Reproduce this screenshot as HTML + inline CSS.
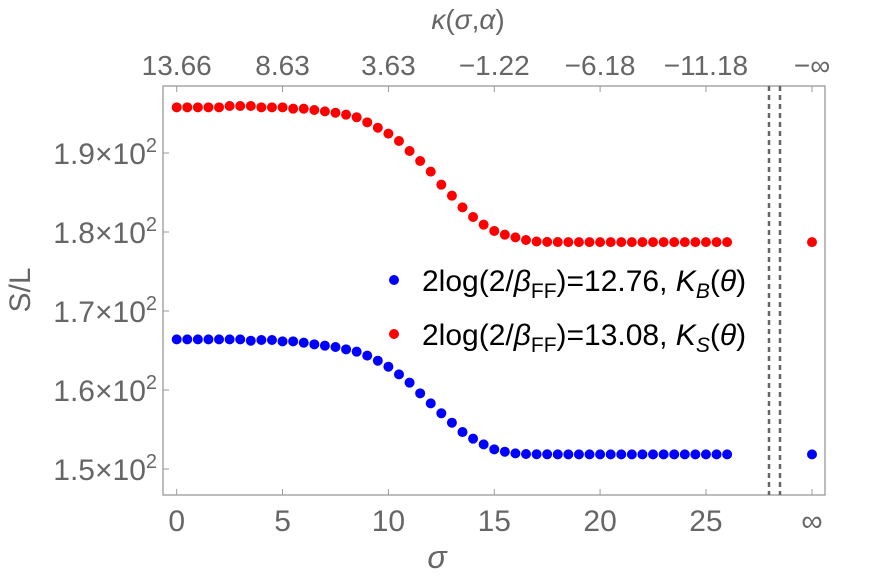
<!DOCTYPE html>
<html><head><meta charset="utf-8"><style>
body{margin:0;background:#fff}
svg{display:block;font-family:"Liberation Sans",sans-serif}
.t{fill:#666}
</style></head><body>
<svg width="872" height="583" viewBox="0 0 872 583">
<g id="frame"></g>
<g id="marks"></g>
<g id="legend">
<circle cx="394" cy="280" r="5" fill="#0000ff"/>
<text x="422" y="291" font-size="30" fill="#000">2log(2/<tspan font-style="italic">β</tspan><tspan font-size="21" dy="7">FF</tspan><tspan dy="-7">)=12.76, </tspan><tspan font-style="italic">K</tspan><tspan font-style="italic" font-size="21" dy="7">B</tspan><tspan dy="-7">(</tspan><tspan font-style="italic">θ</tspan>)</text>
<circle cx="394" cy="334" r="5" fill="#ff0000"/>
<text x="422" y="345" font-size="30" fill="#000">2log(2/<tspan font-style="italic">β</tspan><tspan font-size="21" dy="7">FF</tspan><tspan dy="-7">)=13.08, </tspan><tspan font-style="italic">K</tspan><tspan font-style="italic" font-size="21" dy="7">S</tspan><tspan dy="-7">(</tspan><tspan font-style="italic">θ</tspan>)</text>
</g>
<text class="t" x="437" y="568" text-anchor="middle" font-style="italic" font-size="32">σ</text>
<text class="t" x="468" y="29" text-anchor="middle" font-size="28"><tspan font-style="italic">κ</tspan>(<tspan font-style="italic">σ</tspan>,<tspan font-style="italic">α</tspan>)</text>
<text class="t" transform="translate(30,290) rotate(-90)" text-anchor="middle" font-size="30">S/L</text>
</svg>
<script>
const xTicks=[0,5,10,15,20,25];
const xTickLabels=["0","5","10","15","20","25"];
const topTickLabels=["13.66","8.63","3.63","−1.22","−6.18","−11.18"];
const yTicks=[150,160,170,180,190];
const yTickLabels=["1.5","1.6","1.7","1.8","1.9"];
const sigma=[0,0.5,1,1.5,2,2.5,3,3.5,4,4.5,5,5.5,6,6.5,7,7.5,8,8.5,9,9.5,10,10.5,11,11.5,12,12.5,13,13.5,14,14.5,15,15.5,16,16.5,17,17.5,18,18.5,19,19.5,20,20.5,21,21.5,22,22.5,23,23.5,24,24.5,25,25.5,26];
const redValues=[195.78,195.78,195.78,195.78,195.78,195.95,195.95,195.95,195.78,195.78,195.78,195.61,195.61,195.44,195.27,195.1,194.85,194.52,193.88,193.2,192.45,191.52,190.25,188.99,187.64,185.99,184.6,183.12,181.9,180.93,180.13,179.66,179.32,178.99,178.8,178.75,178.73,178.72,178.72,178.72,178.72,178.72,178.72,178.72,178.72,178.72,178.72,178.72,178.72,178.72,178.72,178.72,178.72];
const blueValues=[166.41,166.41,166.41,166.41,166.41,166.41,166.41,166.24,166.33,166.33,166.16,166.16,165.99,165.78,165.61,165.44,165.15,164.85,164.35,163.71,162.95,161.98,160.93,159.58,158.31,157.05,155.86,154.68,153.84,153.12,152.49,152.19,151.98,151.9,151.87,151.86,151.85,151.85,151.85,151.85,151.85,151.85,151.85,151.85,151.85,151.85,151.85,151.85,151.85,151.85,151.85,151.85,151.85];
const redInf=178.72, blueInf=151.85;
const NS="http://www.w3.org/2000/svg";
const X=s=>176.7+s*21.17;
const XINF=812;
const Y=v=>469-(v-150)*7.9;
const R=825,T=86,B=495;
function mk(tag,attrs,parent,txt){const e=document.createElementNS(NS,tag);for(const k in attrs)e.setAttribute(k,attrs[k]);if(txt!==undefined)e.textContent=txt;parent.appendChild(e);return e;}
const fr=document.getElementById('frame');
const box=mk('rect',{x:163,y:T,width:R-163,height:B-T,fill:'none',stroke:'#999','stroke-width':1.3},fr);


const ticksAll=xTicks.map(X).concat([XINF]);
ticksAll.forEach((x,i)=>{
 mk('line',{x1:x,x2:x,y1:B,y2:B-6,stroke:'#999'},fr);
 mk('line',{x1:x,x2:x,y1:T,y2:T+6,stroke:'#999'},fr);
 const bl=mk('text',{x:x,y:531,'text-anchor':'middle',class:'t','font-size':30},fr,i<xTicks.length?xTickLabels[i]:'∞');
 
 
 const tl=mk('text',{x:x,y:75,'text-anchor':'middle',class:'t','font-size':28},fr,i<xTicks.length?topTickLabels[i]:'−∞');
 
 
});
yTicks.forEach((v,i)=>{
 const y=Y(v);
 mk('line',{x1:163,x2:169,y1:y,y2:y,stroke:'#999'},fr);
 const t=mk('text',{x:157,y:y+11,'text-anchor':'end',class:'t','font-size':30},fr);
 
 
 t.appendChild(document.createTextNode(yTickLabels[i]+'×10'));
 mk('tspan',{'font-size':20,dy:-12},t,'2');
});
[769,780].forEach(x=>{
 const d=mk('line',{x1:x,x2:x,y1:T,y2:B,stroke:'#666','stroke-width':2.5,'stroke-dasharray':'5,4'},fr);
 
 
});
const mg=document.getElementById('marks');
function series(vals,inf,col,name){
 vals.forEach((v,i)=>{
  const c=mk('circle',{cx:X(sigma[i]),cy:Y(v),r:5,fill:col},mg);
  
  
 });
 const c=mk('circle',{cx:XINF,cy:Y(inf),r:5,fill:col},mg);
 
 
}
series(redValues,redInf,'#ff0000','red-series');
series(blueValues,blueInf,'#0000ff','blue-series');
</script>
</body></html>
